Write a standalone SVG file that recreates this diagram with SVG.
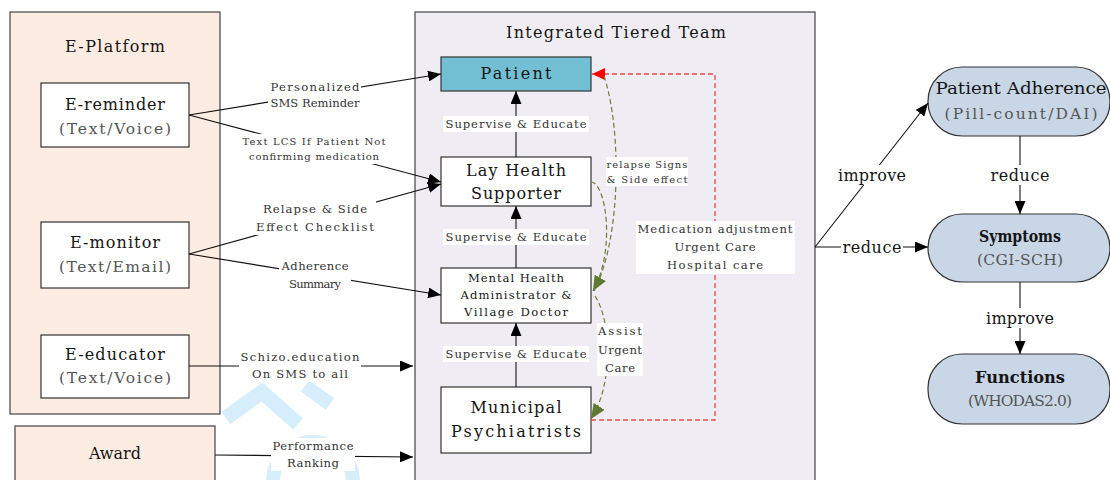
<svg xmlns="http://www.w3.org/2000/svg" width="1110" height="480" viewBox="0 0 1110 480">
  <style>
    text { font-family: "DejaVu Serif", "Liberation Serif", serif; text-anchor: middle; fill: #151515; }
    .big { font-size: 16px; }
    .sub { font-size: 15.5px; fill: #555; }
    .lbl { font-size: 11.6px; fill: #333; }
    .tiny { font-size: 10px; fill: #333; }
    .bold { font-weight: bold; }
    .frame { stroke: #444; stroke-width: 1.2; }
    .node { fill: #fff; stroke: #333; stroke-width: 1.2; }
    .pill { fill: #c8d6e5; stroke: #333; stroke-width: 1.2; }
    .bg { fill: #fff; }
    .edge { fill: none; stroke: #111; stroke-width: 1.1; }
    .green { fill: none; stroke: #6b7f3a; stroke-width: 1.2; stroke-dasharray: 5 3; }
    .red { fill: none; stroke: #f04848; stroke-width: 1.3; stroke-dasharray: 5 3; }
  </style>
  <defs>
    <marker id="arrow" markerUnits="userSpaceOnUse" markerWidth="13" markerHeight="11" viewBox="0 0 13 11" refX="13" refY="5.5" orient="auto">
      <path d="M0,0 L13,5.5 L0,11 z" fill="#000"/>
    </marker>
    <marker id="arrowRed" markerUnits="userSpaceOnUse" markerWidth="13" markerHeight="12" viewBox="0 0 13 12" refX="13" refY="6" orient="auto">
      <path d="M0,0 L13,6 L0,12 z" fill="#ff0000"/>
    </marker>
    <marker id="arrowGreen" markerUnits="userSpaceOnUse" markerWidth="15" markerHeight="13" viewBox="0 0 15 13" refX="15" refY="6.5" orient="auto">
      <path d="M0,0 L15,6.5 L0,13 z" fill="#5f7a30"/>
    </marker>
  </defs>

  <rect x="0" y="0" width="1110" height="480" fill="#fff"/>

  <!-- faint logo mark in the gap between the platform and the team -->
  <g id="logo-mark">
    <polyline points="226,418 262,392 298,424" fill="none" stroke="#d6eefb" stroke-width="15"/>
    <line x1="305" y1="386" x2="330" y2="404" stroke="#d6eefb" stroke-width="14"/>
    <circle cx="313" cy="482" r="40" fill="none" stroke="#d6eefb" stroke-width="14"/>
  </g>

  <!-- E-Platform container -->
  <g id="e-platform">
    <rect x="10" y="12" width="210" height="402" fill="#fdece1" class="frame"/>
    <text class="big" x="115" y="52" textLength="100">E-Platform</text>
  </g>
  <g id="e-reminder">
    <rect x="41" y="83" width="148" height="64" class="node"/>
    <text class="big" x="115" y="110" textLength="100">E-reminder</text>
    <text class="sub" x="115" y="134" textLength="112">(Text/Voice)</text>
  </g>
  <g id="e-monitor">
    <rect x="41" y="222" width="148" height="66" class="node"/>
    <text class="big" x="115" y="248" textLength="90">E-monitor</text>
    <text class="sub" x="115" y="272" textLength="112">(Text/Email)</text>
  </g>
  <g id="e-educator">
    <rect x="41" y="335" width="148" height="63" class="node"/>
    <text class="big" x="115" y="360" textLength="100">E-educator</text>
    <text class="sub" x="115" y="383" textLength="112">(Text/Voice)</text>
  </g>
  <g id="award">
    <rect x="15" y="426" width="200" height="70" fill="#fdece1" class="frame"/>
    <text class="big" x="115" y="459" textLength="52">Award</text>
  </g>

  <!-- Integrated tiered team container -->
  <g id="team">
    <rect x="415" y="12" width="400" height="480" fill="#efedf3" class="frame"/>
    <text class="big" x="616" y="38" textLength="220">Integrated Tiered Team</text>
  </g>
  <g id="patient">
    <rect x="441" y="57" width="150" height="34" fill="#72bfd3" stroke="#333" stroke-width="1.2"/>
    <text class="big" x="516" y="79" textLength="71">Patient</text>
  </g>
  <g id="lay-health-supporter">
    <rect x="441" y="157" width="150" height="49" class="node"/>
    <text class="big" x="516" y="176" textLength="100">Lay Health</text>
    <text class="big" x="516" y="199" textLength="90">Supporter</text>
  </g>
  <g id="mental-health-admin">
    <rect x="441" y="268" width="150" height="55" class="node"/>
    <text class="lbl" x="516" y="282" textLength="96" style="fill:#151515">Mental Health</text>
    <text class="lbl" x="516" y="299" textLength="111" style="fill:#151515">Administrator &amp;</text>
    <text class="lbl" x="516" y="316" textLength="104" style="fill:#151515">Village Doctor</text>
  </g>
  <g id="municipal-psychiatrists">
    <rect x="441" y="387" width="150" height="66" class="node"/>
    <text class="big" x="516" y="413" textLength="91">Municipal</text>
    <text class="big" x="516" y="437" textLength="130">Psychiatrists</text>
  </g>

  <!-- outcome nodes -->
  <g id="patient-adherence">
    <rect x="928" y="67" width="182" height="69" rx="34" class="pill"/>
    <text class="big" x="1021" y="94" textLength="171" lengthAdjust="spacingAndGlyphs">Patient Adherence</text>
    <text class="sub" x="1021" y="119" textLength="153">(Pill-count/DAI)</text>
  </g>
  <g id="symptoms">
    <rect x="928" y="214" width="182" height="68" rx="34" class="pill"/>
    <text class="big bold" x="1020" y="242" textLength="82" lengthAdjust="spacingAndGlyphs">Symptoms</text>
    <text class="sub" x="1020" y="265" textLength="86">(CGI-SCH)</text>
  </g>
  <g id="functions">
    <rect x="928" y="354" width="182" height="70" rx="34" class="pill"/>
    <text class="big bold" x="1020" y="383" textLength="90" lengthAdjust="spacingAndGlyphs">Functions</text>
    <text class="sub" x="1020" y="406" textLength="104">(WHODAS2.0)</text>
  </g>

  <g id="connectors">
    <!-- platform to team -->
    <line x1="189" y1="115" x2="441" y2="74" class="edge" marker-end="url(#arrow)"/>
    <line x1="189" y1="115" x2="441" y2="182" class="edge" marker-end="url(#arrow)"/>
    <line x1="189" y1="254" x2="441" y2="184" class="edge" marker-end="url(#arrow)"/>
    <line x1="189" y1="254" x2="441" y2="295" class="edge" marker-end="url(#arrow)"/>
    <line x1="189" y1="366" x2="413" y2="366" class="edge" marker-end="url(#arrow)"/>
    <line x1="215" y1="455" x2="413" y2="457" class="edge" marker-end="url(#arrow)"/>

    <rect x="268" y="79" width="93" height="32" class="bg"/>
    <text class="lbl" x="315" y="91" textLength="89">Personalized</text>
    <text class="lbl" x="315" y="107" textLength="89">SMS Reminder</text>
    <rect x="241" y="134" width="147" height="30" class="bg"/>
    <text class="tiny" x="314" y="145" textLength="143">Text LCS If Patient Not</text>
    <text class="tiny" x="314" y="160" textLength="130">confirming medication</text>
    <rect x="254" y="201" width="122" height="34" class="bg"/>
    <text class="lbl" x="315" y="213" textLength="104">Relapse &amp; Side</text>
    <text class="lbl" x="315" y="231" textLength="118">Effect Checklist</text>
    <rect x="279" y="258" width="72" height="34" class="bg"/>
    <text class="lbl" x="315" y="270" textLength="67">Adherence</text>
    <text class="lbl" x="315" y="288" textLength="52">Summary</text>
    <rect x="239" y="349" width="122" height="33" class="bg"/>
    <text class="lbl" x="300" y="361" textLength="119">Schizo.education</text>
    <text class="lbl" x="300" y="378" textLength="96">On SMS to all</text>
    <rect x="271" y="438" width="84" height="33" class="bg"/>
    <text class="lbl" x="313" y="450" textLength="81">Performance</text>
    <text class="lbl" x="313" y="467" textLength="52">Ranking</text>

    <!-- supervise & educate chain -->
    <line x1="516" y1="157" x2="516" y2="91" class="edge" marker-end="url(#arrow)"/>
    <line x1="516" y1="268" x2="516" y2="206" class="edge" marker-end="url(#arrow)"/>
    <line x1="516" y1="387" x2="516" y2="323" class="edge" marker-end="url(#arrow)"/>
    <rect x="443" y="116" width="146" height="16" class="bg"/>
    <text class="lbl" x="516" y="128" textLength="141">Supervise &amp; Educate</text>
    <rect x="443" y="229" width="146" height="16" class="bg"/>
    <text class="lbl" x="516" y="241" textLength="141">Supervise &amp; Educate</text>
    <rect x="443" y="346" width="146" height="16" class="bg"/>
    <text class="lbl" x="516" y="358" textLength="141">Supervise &amp; Educate</text>

    <!-- feedback loops -->
    <path d="M591,420 H715 V74 H592" class="red" marker-end="url(#arrowRed)"/>
    <path d="M591,182 C606,182 616,250 593,291" class="green" marker-end="url(#arrowGreen)"/>
    <path d="M604,76 C622,130 621,240 594,291" class="green"/>
    <path d="M595,296 C612,322 613,385 591,419" class="green" marker-end="url(#arrowGreen)"/>

    <rect x="606" y="157" width="82" height="29" class="bg"/>
    <text class="tiny" x="647" y="168" textLength="81">relapse Signs</text>
    <text class="tiny" x="647" y="183" textLength="81">&amp; Side effect</text>
    <rect x="636" y="221" width="159" height="53" class="bg"/>
    <text class="lbl" x="715" y="233" textLength="155">Medication adjustment</text>
    <text class="lbl" x="715" y="251" textLength="81">Urgent Care</text>
    <text class="lbl" x="715" y="269" textLength="96">Hospital care</text>
    <rect x="597" y="323" width="46" height="53" class="bg"/>
    <text class="lbl" x="620" y="335" textLength="44">Assist</text>
    <text class="lbl" x="620" y="354" textLength="44">Urgent</text>
    <text class="lbl" x="620" y="372" textLength="30">Care</text>

    <!-- team to outcomes -->
    <line x1="815" y1="247" x2="928" y2="103" class="edge" marker-end="url(#arrow)"/>
    <line x1="815" y1="247" x2="928" y2="247" class="edge" marker-end="url(#arrow)"/>
    <line x1="1020" y1="136" x2="1020" y2="214" class="edge" marker-end="url(#arrow)"/>
    <line x1="1020" y1="282" x2="1020" y2="354" class="edge" marker-end="url(#arrow)"/>
    <rect x="836" y="165" width="72" height="20" class="bg"/>
    <text class="big" x="872" y="181" textLength="68">improve</text>
    <rect x="841" y="238" width="62" height="18" class="bg"/>
    <text class="big" x="872" y="253" textLength="59">reduce</text>
    <rect x="988" y="165" width="64" height="20" class="bg"/>
    <text class="big" x="1020" y="181" textLength="59">reduce</text>
    <rect x="984" y="308" width="72" height="20" class="bg"/>
    <text class="big" x="1020" y="324" textLength="68">improve</text>
  </g>
</svg>
